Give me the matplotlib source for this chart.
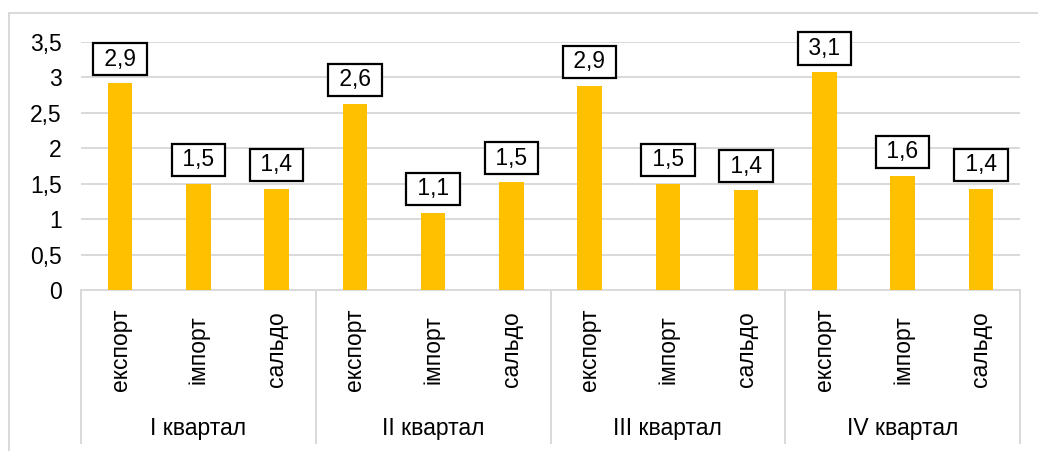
import matplotlib
matplotlib.use("Agg")
import matplotlib.pyplot as plt
from matplotlib.lines import Line2D

plt.rcParams['font.family'] = ['Liberation Sans', 'DejaVu Sans']

quarters = ["I квартал", "II квартал", "III квартал", "IV квартал"]
items = ["експорт", "імпорт", "сальдо"]
values = [2.92, 1.50, 1.43,
          2.63, 1.09, 1.52,
          2.88, 1.50, 1.41,
          3.07, 1.61, 1.43]
labels = ["2,9", "1,5", "1,4",
          "2,6", "1,1", "1,5",
          "2,9", "1,5", "1,4",
          "3,1", "1,6", "1,4"]
yticks = [0, 0.5, 1, 1.5, 2, 2.5, 3, 3.5]
ytick_labels = ["0", "0,5", "1", "1,5", "2", "2,5", "3", "3,5"]

FS = 16.5
W, H = 1038, 451
fig = plt.figure(figsize=(W / 100, H / 100), dpi=100)
ax = fig.add_axes([81 / W, 1 - 290 / H, (1020 - 81) / W, (290 - 42) / H])

n = len(values)
x = list(range(n))
ax.bar(x, values, width=0.31, color="#FFC000", zorder=3)
ax.set_xlim(-0.5, n - 0.5)
ax.set_ylim(0, 3.5)
ax.set_yticks(yticks)
ax.set_yticklabels(ytick_labels, fontsize=FS)
ax.yaxis.grid(True, color="#D9D9D9", linewidth=1.4, zorder=0)
ax.tick_params(axis="y", length=0, pad=14)
ax.set_xticks([])
for s in ["top", "right", "left"]:
    ax.spines[s].set_visible(False)
ax.spines["bottom"].set_color("#D9D9D9")
ax.spines["bottom"].set_linewidth(1.4)

for xi, v, lab in zip(x, values, labels):
    ax.annotate(" " + lab + " ", (xi, v), xytext=(0, 9.0), textcoords="offset points",
                ha="center", va="bottom", fontsize=FS, zorder=4,
                bbox=dict(boxstyle="square,pad=0.2", fc="white", ec="black", lw=1.6))

# category labels
trans = ax.get_xaxis_transform()
for i in range(n):
    ax.text(i, -0.24, items[i % 3], transform=trans, rotation=90,
            ha="center", va="center", fontsize=FS)
# group labels and separators
ng = len(quarters)
for g in range(ng):
    ax.text(g * 3 + 1, -0.56, quarters[g], transform=trans,
            ha="center", va="center", fontsize=FS)
bottom_frac = (443 - 290) / (290 - 42)
for g in range(ng + 1):
    ax.add_line(Line2D([g * 3 - 0.5, g * 3 - 0.5], [0, -bottom_frac], transform=trans,
                       color="#D9D9D9", lw=1.4, clip_on=False))

# outer frame lines
fig.add_artist(Line2D([9 / W, 1], [1 - 13 / H, 1 - 13 / H], color="#D9D9D9", lw=1.4))
fig.add_artist(Line2D([9 / W, 9 / W], [0, 1 - 13 / H], color="#D9D9D9", lw=1.4))

fig.savefig("out.png", dpi=100)
